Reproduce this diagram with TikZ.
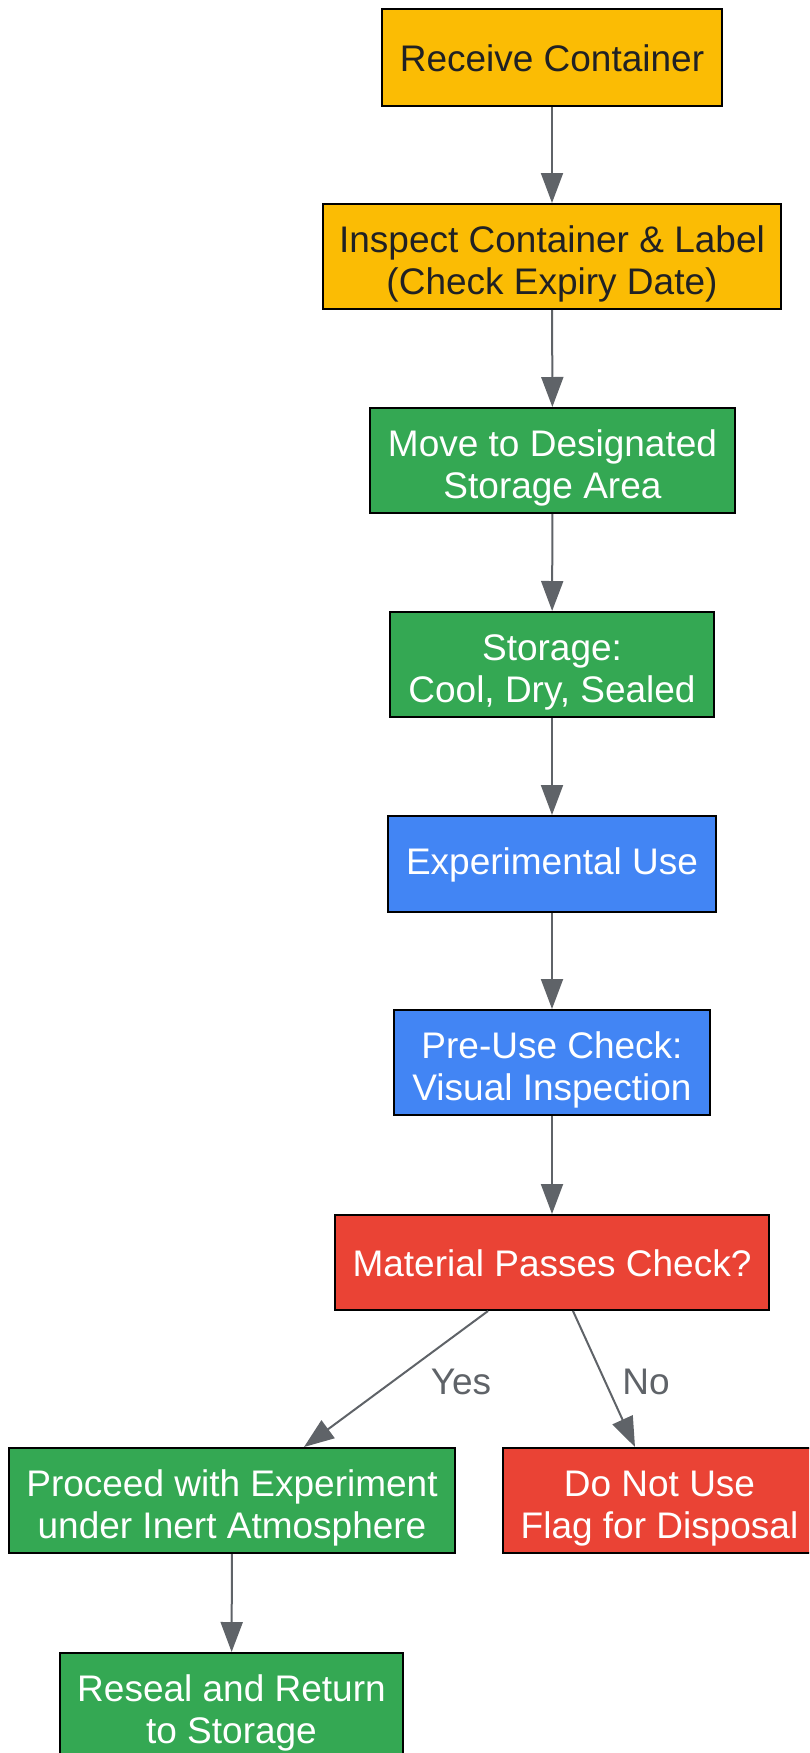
\documentclass[tikz,border=0pt]{standalone}
\usepackage{fontspec}
\setmainfont{Liberation Sans}
\usetikzlibrary{arrows.meta}
\definecolor{gyellow}{HTML}{FBBC04}
\definecolor{ggreen}{HTML}{34A853}
\definecolor{gblue}{HTML}{4285F4}
\definecolor{gred}{HTML}{EA4335}
\definecolor{gdark}{HTML}{202124}
\definecolor{ggray}{HTML}{5F6368}
\renewcommand{\arraystretch}{1.05}
\newcommand{\twolines}[2]{\raisebox{-9pt}[\height][\depth]{\begin{tabular}{@{}c@{}}#1\\#2\end{tabular}}}
\tikzset{
  box/.style={draw=black, line width=2pt, rectangle, inner sep=0pt, align=center,
    font=\fontsize{37}{40}\selectfont},
  ybox/.style={box, fill=gyellow, text=gdark},
  gbox/.style={box, fill=ggreen, text=white},
  bbox/.style={box, fill=gblue, text=white},
  rbox/.style={box, fill=gred, text=white},
  flow/.style={draw=ggray, line width=2pt, -{Triangle[length=30pt, width=22pt]}},
  elabel/.style={text=ggray, font=\fontsize{37}{40}\selectfont, inner sep=0pt}
}
\begin{document}
\begin{tikzpicture}[x=1pt, y=-1pt]
\useasboundingbox (0,0) rectangle (809,1753);
\clip (0,0) rectangle (809,1753);
\node[ybox, minimum width=340pt, minimum height=97pt] (receive) at (552,57.5) {\raisebox{-1pt}[\height][\depth]{Receive Container}};
\node[ybox, minimum width=458pt, minimum height=105pt] (inspect) at (552,256.5) {\twolines{Inspect Container \& Label}{(Check Expiry Date)}};
\node[gbox, minimum width=365pt, minimum height=105pt] (move) at (552.5,460.5) {\twolines{Move to Designated}{Storage Area}};
\node[gbox, minimum width=324pt, minimum height=105pt] (storage) at (552,664.5) {\twolines{Storage:}{Cool, Dry, Sealed}};
\node[bbox, minimum width=328pt, minimum height=96pt] (expuse) at (552,864) {\raisebox{-1pt}[\height][\depth]{Experimental Use}};
\node[bbox, minimum width=316pt, minimum height=105pt] (preuse) at (552,1062.5) {\twolines{Pre-Use Check:}{Visual Inspection}};
\node[rbox, minimum width=434pt, minimum height=95pt] (material) at (552,1262.5) {\raisebox{-1pt}[\height][\depth]{Material Passes Check?}};
\node[gbox, minimum width=446pt, minimum height=105pt] (proceed) at (232,1500.5) {\twolines{Proceed with Experiment}{under Inert Atmosphere}};
\node[rbox, minimum width=313pt, minimum height=105pt] (dnu) at (659.5,1500.5) {\twolines{Do Not Use}{Flag for Disposal}};
\node[gbox, minimum width=343pt, minimum height=105pt] (reseal) at (231.5,1705.5) {\twolines{Reseal and Return}{to Storage}};

\draw[flow] (receive) -- (inspect);
\draw[flow] (inspect) -- (move);
\draw[flow] (move) -- (storage);
\draw[flow] (storage) -- (expuse);
\draw[flow] (expuse) -- (preuse);
\draw[flow] (preuse) -- (material);
\draw[flow] ([xshift=-64pt]material.south) -- node[elabel, pos=0.5, xshift=65pt, yshift=-3pt] (yes) {Yes} ([xshift=72pt]proceed.north);
\draw[flow] ([xshift=21pt]material.south) -- node[elabel, pos=0.5, xshift=42pt, yshift=-3pt] (no) {No} ([xshift=-24.5pt]dnu.north);
\draw[flow] (proceed) -- (reseal);
\end{tikzpicture}
\end{document}
